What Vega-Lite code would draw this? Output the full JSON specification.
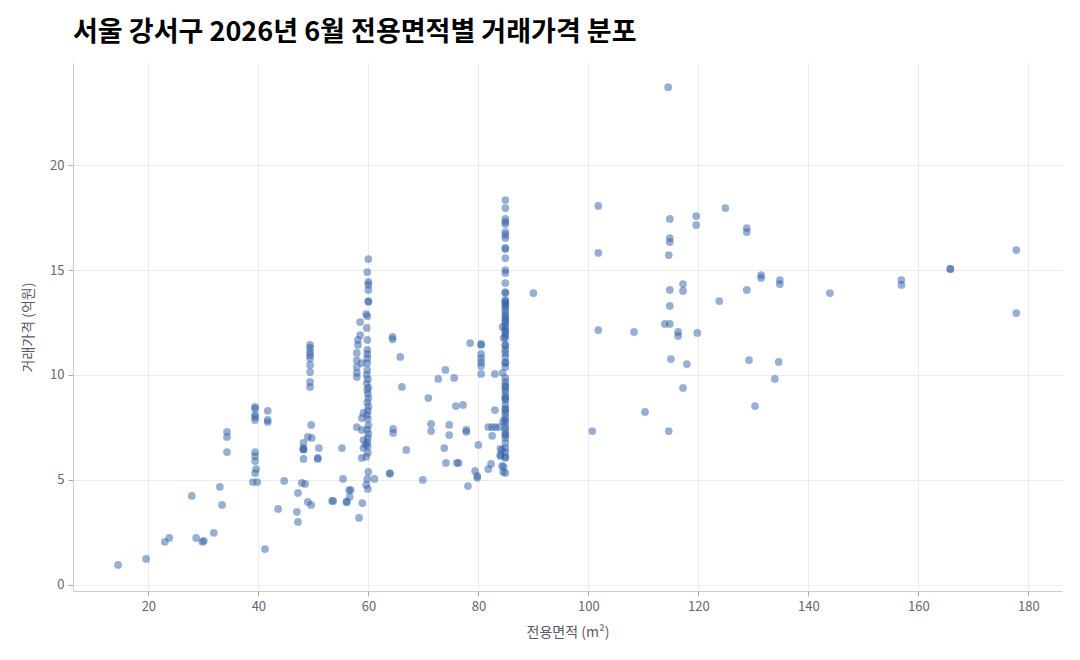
{
  "$schema": "https://vega.github.io/schema/vega-lite/v6.json",
  "width": 989,
  "height": 528,
  "autosize": {"type": "none"},
  "padding": {"left": 73, "top": 63, "right": 18, "bottom": 69},
  "background": "white",
  "title": {
    "text": "서울 강서구 2026년 6월 전용면적별 거래가격 분포",
    "anchor": "start",
    "frame": "group",
    "font": "Noto Sans CJK KR",
    "fontSize": 27,
    "fontWeight": "bold",
    "color": "#000000",
    "offset": 16
  },
  "config": {
    "view": {"stroke": null},
    "axis": {
      "labelFont": "Noto Sans CJK KR",
      "titleFont": "Noto Sans CJK KR",
      "labelColor": "#666670",
      "titleColor": "#5a5a66",
      "labelFontSize": 13,
      "titleFontSize": 14,
      "titleFontWeight": "normal",
      "gridColor": "#ebebeb",
      "domainColor": "#cccccc",
      "tickColor": "#aaaaaa",
      "tickSize": 5,
      "labelPadding": 4
    }
  },
  "data": {
    "values": [
      {"area": 14.5, "price": 0.95}, {"area": 19.6, "price": 1.24}, {"area": 23.0, "price": 2.05}, {"area": 23.8, "price": 2.24},
      {"area": 27.9, "price": 4.24}, {"area": 28.7, "price": 2.24}, {"area": 29.8, "price": 2.05}, {"area": 30.1, "price": 2.1},
      {"area": 31.9, "price": 2.48}, {"area": 33.0, "price": 4.67}, {"area": 33.4, "price": 3.81}, {"area": 34.3, "price": 7.29},
      {"area": 34.3, "price": 7.05}, {"area": 34.3, "price": 6.33}, {"area": 39.4, "price": 8.48}, {"area": 39.4, "price": 8.4},
      {"area": 39.4, "price": 8.1}, {"area": 39.4, "price": 8.0}, {"area": 39.4, "price": 7.86}, {"area": 41.7, "price": 8.29},
      {"area": 41.7, "price": 7.86}, {"area": 41.7, "price": 7.76}, {"area": 39.4, "price": 6.33}, {"area": 39.4, "price": 6.14},
      {"area": 39.4, "price": 5.9}, {"area": 39.6, "price": 5.52}, {"area": 39.4, "price": 5.33}, {"area": 39.0, "price": 4.9},
      {"area": 39.8, "price": 4.9}, {"area": 44.7, "price": 4.95}, {"area": 43.6, "price": 3.62}, {"area": 41.2, "price": 1.71},
      {"area": 49.4, "price": 11.43}, {"area": 49.4, "price": 11.29}, {"area": 49.4, "price": 11.1}, {"area": 49.4, "price": 10.95},
      {"area": 49.4, "price": 10.8}, {"area": 49.4, "price": 10.48}, {"area": 49.4, "price": 10.14}, {"area": 49.4, "price": 9.67},
      {"area": 49.4, "price": 9.43}, {"area": 49.6, "price": 7.62}, {"area": 49.0, "price": 7.05}, {"area": 49.7, "price": 7.0},
      {"area": 48.2, "price": 6.76}, {"area": 48.2, "price": 6.52}, {"area": 48.2, "price": 6.45}, {"area": 48.2, "price": 6.45},
      {"area": 48.2, "price": 6.0}, {"area": 51.0, "price": 6.52}, {"area": 50.8, "price": 6.05}, {"area": 50.8, "price": 6.0},
      {"area": 55.2, "price": 6.52}, {"area": 47.9, "price": 4.86}, {"area": 48.5, "price": 4.81}, {"area": 47.2, "price": 4.38},
      {"area": 49.0, "price": 3.95}, {"area": 49.6, "price": 3.81}, {"area": 47.0, "price": 3.48}, {"area": 47.2, "price": 3.0},
      {"area": 53.4, "price": 4.0}, {"area": 55.4, "price": 5.05}, {"area": 56.0, "price": 3.95}, {"area": 56.5, "price": 4.52},
      {"area": 60.0, "price": 15.52}, {"area": 59.8, "price": 14.9}, {"area": 60.0, "price": 14.43}, {"area": 60.0, "price": 14.3},
      {"area": 60.0, "price": 14.05}, {"area": 60.0, "price": 13.52}, {"area": 60.0, "price": 13.48}, {"area": 59.6, "price": 12.9},
      {"area": 59.8, "price": 12.8}, {"area": 58.5, "price": 12.52}, {"area": 59.7, "price": 12.24}, {"area": 58.5, "price": 11.9},
      {"area": 58.1, "price": 11.67}, {"area": 59.8, "price": 11.67}, {"area": 58.1, "price": 11.43}, {"area": 59.8, "price": 11.2},
      {"area": 59.8, "price": 11.0}, {"area": 59.8, "price": 10.8}, {"area": 57.9, "price": 11.05}, {"area": 57.9, "price": 10.7},
      {"area": 58.8, "price": 10.57}, {"area": 59.8, "price": 10.57}, {"area": 57.9, "price": 10.38}, {"area": 59.8, "price": 10.24},
      {"area": 57.9, "price": 10.1}, {"area": 57.9, "price": 9.9}, {"area": 59.7, "price": 10.0}, {"area": 59.9, "price": 9.8},
      {"area": 59.7, "price": 9.6}, {"area": 60.0, "price": 9.4}, {"area": 59.8, "price": 9.3}, {"area": 59.9, "price": 9.1},
      {"area": 60.0, "price": 8.9}, {"area": 59.8, "price": 8.7}, {"area": 60.0, "price": 8.5}, {"area": 59.9, "price": 8.3},
      {"area": 59.1, "price": 8.19}, {"area": 59.8, "price": 8.1}, {"area": 58.8, "price": 7.95}, {"area": 59.9, "price": 7.9},
      {"area": 60.0, "price": 7.6}, {"area": 57.9, "price": 7.52}, {"area": 58.8, "price": 7.38}, {"area": 59.8, "price": 7.4},
      {"area": 60.0, "price": 7.2}, {"area": 59.1, "price": 6.9}, {"area": 59.9, "price": 7.0}, {"area": 59.5, "price": 6.67},
      {"area": 59.8, "price": 6.8}, {"area": 59.1, "price": 6.52}, {"area": 59.9, "price": 6.6}, {"area": 58.8, "price": 6.05},
      {"area": 59.9, "price": 6.3}, {"area": 59.6, "price": 6.1}, {"area": 64.4, "price": 11.81}, {"area": 64.4, "price": 11.7},
      {"area": 65.8, "price": 10.86}, {"area": 66.1, "price": 9.43}, {"area": 64.5, "price": 7.43}, {"area": 64.5, "price": 7.24},
      {"area": 63.9, "price": 5.33}, {"area": 63.9, "price": 5.29}, {"area": 66.9, "price": 6.43}, {"area": 60.0, "price": 5.38},
      {"area": 59.8, "price": 5.05}, {"area": 59.6, "price": 4.76}, {"area": 59.9, "price": 4.57}, {"area": 61.1, "price": 5.05},
      {"area": 56.8, "price": 4.52}, {"area": 56.6, "price": 4.19}, {"area": 56.1, "price": 3.95}, {"area": 53.6, "price": 4.0},
      {"area": 58.9, "price": 3.9}, {"area": 58.3, "price": 3.19},
      {"area": 69.9, "price": 5.0}, {"area": 70.9, "price": 8.9}, {"area": 71.4, "price": 7.67}, {"area": 71.4, "price": 7.33},
      {"area": 72.7, "price": 9.81}, {"area": 74.0, "price": 10.24}, {"area": 75.6, "price": 9.86}, {"area": 73.8, "price": 6.52},
      {"area": 74.1, "price": 5.81}, {"area": 74.7, "price": 7.62}, {"area": 74.7, "price": 7.14}, {"area": 75.9, "price": 8.52},
      {"area": 77.2, "price": 8.57}, {"area": 76.1, "price": 5.81}, {"area": 76.4, "price": 5.81}, {"area": 77.8, "price": 7.38},
      {"area": 77.8, "price": 7.29}, {"area": 78.1, "price": 4.71}, {"area": 78.5, "price": 11.52}, {"area": 80.0, "price": 6.67},
      {"area": 79.4, "price": 5.43}, {"area": 79.8, "price": 5.19}, {"area": 79.8, "price": 5.1}, {"area": 80.5, "price": 11.48},
      {"area": 80.5, "price": 11.43}, {"area": 80.5, "price": 11.0}, {"area": 80.5, "price": 10.8}, {"area": 80.5, "price": 10.6},
      {"area": 80.5, "price": 10.43}, {"area": 80.5, "price": 10.05}, {"area": 83.0, "price": 10.05}, {"area": 83.0, "price": 8.33},
      {"area": 81.8, "price": 7.52}, {"area": 82.5, "price": 7.52}, {"area": 83.1, "price": 7.52}, {"area": 83.8, "price": 7.52},
      {"area": 82.5, "price": 7.1}, {"area": 81.8, "price": 5.52}, {"area": 82.3, "price": 5.76}, {"area": 84.0, "price": 6.48},
      {"area": 84.0, "price": 6.14}, {"area": 84.3, "price": 5.67}, {"area": 84.5, "price": 5.38},
      {"area": 84.9, "price": 18.33}, {"area": 84.9, "price": 17.95}, {"area": 84.9, "price": 17.43}, {"area": 84.9, "price": 17.29},
      {"area": 84.9, "price": 17.19}, {"area": 84.9, "price": 16.81}, {"area": 84.9, "price": 16.67}, {"area": 84.9, "price": 16.52},
      {"area": 84.9, "price": 16.05}, {"area": 84.9, "price": 16.0}, {"area": 84.9, "price": 15.57}, {"area": 84.9, "price": 15.0},
      {"area": 84.9, "price": 14.86}, {"area": 84.9, "price": 14.38}, {"area": 84.9, "price": 13.95}, {"area": 84.9, "price": 13.9},
      {"area": 84.9, "price": 13.57}, {"area": 84.9, "price": 13.43}, {"area": 84.9, "price": 13.33}, {"area": 84.9, "price": 13.24},
      {"area": 84.9, "price": 13.1}, {"area": 84.9, "price": 12.95}, {"area": 84.9, "price": 12.81}, {"area": 84.9, "price": 12.71},
      {"area": 84.9, "price": 12.52}, {"area": 84.9, "price": 12.38}, {"area": 84.9, "price": 12.24}, {"area": 84.9, "price": 12.05},
      {"area": 84.9, "price": 11.9}, {"area": 84.9, "price": 11.76}, {"area": 84.9, "price": 11.43}, {"area": 84.9, "price": 11.4},
      {"area": 84.9, "price": 11.05}, {"area": 84.9, "price": 10.86}, {"area": 84.9, "price": 10.57}, {"area": 84.9, "price": 10.38},
      {"area": 84.9, "price": 9.86}, {"area": 84.9, "price": 9.67}, {"area": 84.9, "price": 9.43}, {"area": 84.9, "price": 9.29},
      {"area": 84.9, "price": 9.14}, {"area": 84.9, "price": 8.95}, {"area": 84.9, "price": 8.81}, {"area": 84.9, "price": 8.57},
      {"area": 84.9, "price": 8.33}, {"area": 84.9, "price": 8.19}, {"area": 84.9, "price": 8.0}, {"area": 84.9, "price": 7.86},
      {"area": 84.9, "price": 7.71}, {"area": 84.9, "price": 7.38}, {"area": 84.9, "price": 7.14}, {"area": 84.9, "price": 7.0},
      {"area": 84.9, "price": 6.76}, {"area": 84.9, "price": 6.52}, {"area": 84.9, "price": 6.33}, {"area": 84.9, "price": 6.1},
      {"area": 84.9, "price": 6.05}, {"area": 84.9, "price": 5.33}, {"area": 84.9, "price": 13.5}, {"area": 84.9, "price": 12.6},
      {"area": 84.9, "price": 12.1}, {"area": 84.9, "price": 11.2}, {"area": 84.9, "price": 10.6}, {"area": 84.9, "price": 9.5},
      {"area": 84.9, "price": 8.9}, {"area": 84.9, "price": 8.4}, {"area": 84.9, "price": 7.5}, {"area": 84.9, "price": 7.2},
      {"area": 84.4, "price": 12.29}, {"area": 84.6, "price": 11.76}, {"area": 84.4, "price": 10.1}, {"area": 84.5, "price": 7.8},
      {"area": 84.3, "price": 6.43}, {"area": 84.0, "price": 6.2}, {"area": 84.6, "price": 5.62}, {"area": 90.0, "price": 13.9},
      {"area": 101.8, "price": 18.05}, {"area": 101.8, "price": 15.81}, {"area": 100.7, "price": 7.33}, {"area": 101.8, "price": 12.14},
      {"area": 108.3, "price": 12.05}, {"area": 110.3, "price": 8.24}, {"area": 114.5, "price": 23.71}, {"area": 114.8, "price": 17.43},
      {"area": 114.8, "price": 16.52}, {"area": 114.8, "price": 16.33}, {"area": 114.6, "price": 15.71}, {"area": 114.8, "price": 14.05},
      {"area": 114.8, "price": 13.29}, {"area": 113.9, "price": 12.43}, {"area": 114.8, "price": 12.43}, {"area": 115.0, "price": 10.76},
      {"area": 114.6, "price": 7.33}, {"area": 117.2, "price": 14.33}, {"area": 117.2, "price": 14.0}, {"area": 116.3, "price": 12.05},
      {"area": 116.3, "price": 11.86}, {"area": 119.8, "price": 12.0}, {"area": 117.9, "price": 10.52}, {"area": 117.2, "price": 9.38},
      {"area": 119.6, "price": 17.57}, {"area": 119.6, "price": 17.14}, {"area": 124.9, "price": 17.95}, {"area": 123.8, "price": 13.52},
      {"area": 128.8, "price": 17.0}, {"area": 128.8, "price": 16.81}, {"area": 128.8, "price": 14.05}, {"area": 129.2, "price": 10.71},
      {"area": 131.4, "price": 14.76}, {"area": 131.4, "price": 14.62}, {"area": 134.8, "price": 14.52}, {"area": 134.8, "price": 14.33},
      {"area": 134.6, "price": 10.62}, {"area": 133.9, "price": 9.81}, {"area": 130.3, "price": 8.52}, {"area": 143.9, "price": 13.9},
      {"area": 156.9, "price": 14.52}, {"area": 156.9, "price": 14.29}, {"area": 165.8, "price": 15.05}, {"area": 165.8, "price": 15.05},
      {"area": 177.8, "price": 15.95}, {"area": 177.8, "price": 12.95}
    ]
  },
  "mark": {"type": "circle", "size": 60, "color": "#2f5fa8", "opacity": 0.5, "stroke": null},
  "encoding": {
    "x": {
      "field": "area",
      "type": "quantitative",
      "title": "전용면적 (m²)",
      "scale": {"domain": [6.3, 186.1], "nice": false, "zero": false},
      "axis": {"values": [20, 40, 60, 80, 100, 120, 140, 160, 180], "titlePadding": 12}
    },
    "y": {
      "field": "price",
      "type": "quantitative",
      "title": "거래가격 (억원)",
      "scale": {"domain": [-0.29, 24.86], "nice": false, "zero": false},
      "axis": {"values": [0, 5, 10, 15, 20], "titlePadding": 14}
    }
  }
}
